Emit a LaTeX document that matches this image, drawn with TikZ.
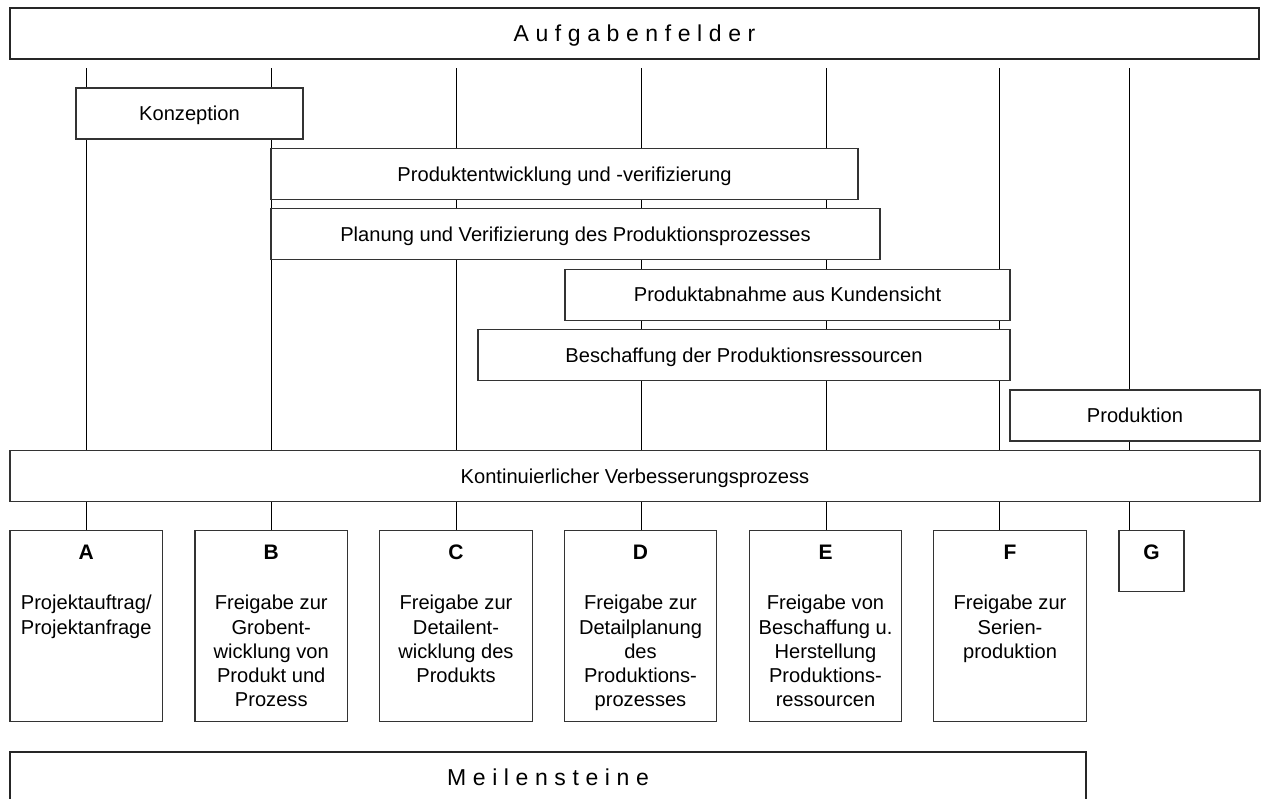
\documentclass[tikz,border=0pt]{standalone}
\usepackage{fontspec}
\setmainfont{Liberation Sans}
\newcommand{\bodyfont}{\fontsize{20.1}{24.3}\selectfont}
\newcommand{\trk}{\kern6.6pt}
\begin{document}
\begin{tikzpicture}[x=1pt,y=-1pt,
  banner/.style={draw=black!85, line width=2.2pt, fill=white, minimum height=51pt,
    inner sep=0pt, font=\fontsize{23}{27}\selectfont, text height=16.5pt, text depth=0pt},
  phase/.style={draw=black!80, line width=1.2pt, fill=white, minimum height=51pt,
    inner sep=0pt, font=\bodyfont, text height=14.4pt, text depth=0pt},
  gate/.style={draw=black!80, line width=1.2pt, fill=white, inner sep=0pt,
    minimum width=152.5pt, minimum height=191pt},
  gateid/.style={font=\fontsize{21}{25}\selectfont\bfseries, inner sep=0pt, anchor=base},
  gatetxt/.style={font=\bodyfont, align=center, inner sep=0pt, anchor=north},
  track/.style={draw=black, line width=1pt}]

\useasboundingbox (0,0) rectangle (1263,798);
\clip (0,0) rectangle (1263,798);

% upper ends of the vertical tracks
\coordinate (t1) at (86,68);
\coordinate (t2) at (271,68);
\coordinate (t3) at (456,68);
\coordinate (t4) at (641,68);
\coordinate (t5) at (826,68);
\coordinate (t6) at (999.5,68);
\coordinate (t7) at (1129.5,68);

% milestone boxes (placed first so the tracks can end on them)
\node[gate] (mA) at (86.25,626.2) {};
\node[gate] (mB) at (271.25,626.2) {};
\node[gate] (mC) at (456,626.2) {};
\node[gate] (mD) at (640.5,626.2) {};
\node[gate] (mE) at (825.5,626.2) {};
\node[gate] (mF) at (1010,626.2) {};
\node[gate, minimum width=65pt, minimum height=61pt] (mG) at (1151.5,561.2) {};

% tracks
\draw[track] (t1) -- (t1 |- mA.north);
\draw[track] (t2) -- (t2 |- mB.north);
\draw[track] (t3) -- (t3 |- mC.north);
\draw[track] (t4) -- (t4 |- mD.north);
\draw[track] (t5) -- (t5 |- mE.north);
\draw[track] (t6) -- (t6 |- mF.north);
\draw[track] (t7) -- (t7 |- mG.north);

% task field header
\node[banner, minimum width=1249pt] (tasks) at (634.5,33.5)
  {A\trk u\trk f\trk g\trk a\trk b\trk e\trk n\trk f\trk e\trk l\trk d\trk e\trk r};

% phases
\node[phase, minimum width=227pt] (konz) at (189.5,113.5) {Konzeption};
\node[phase, minimum width=587pt] (pev) at (564.5,173.9) {Produktentwicklung und -verifizierung};
\node[phase, minimum width=609pt] (pvp) at (575.5,234.3) {Planung und Verifizierung des Produktionsprozesses};
\node[phase, minimum width=445pt] (pak) at (787.5,294.7) {Produktabnahme aus Kundensicht};
\node[phase, minimum width=532pt] (bpr) at (744,355.1) {Beschaffung der Produktionsressourcen};
\node[phase, minimum width=250pt] (prod) at (1135,415.5) {Produktion};
\node[phase, minimum width=1250pt] (kvp) at (635,475.9) {Kontinuierlicher Verbesserungsprozess};

% milestone labels
\node[gateid] (lA) at (mA.center |- 0,559) {A};
\node[gateid] (lB) at (mB.center |- 0,559) {B};
\node[gateid] (lC) at (mC.center |- 0,559) {C};
\node[gateid] (lD) at (mD.center |- 0,559) {D};
\node[gateid] (lE) at (mE.center |- 0,559) {E};
\node[gateid] (lF) at (mF.center |- 0,559) {F};
\node[gateid] (lG) at (mG.center |- 0,559) {G};

\node[gatetxt] (xA) at (mA.center |- 0,595) {Projektauftrag/\\Projektanfrage};
\node[gatetxt] (xB) at (mB.center |- 0,595) {Freigabe zur\\Grobent-\\wicklung von\\Produkt und\\Prozess};
\node[gatetxt] (xC) at (mC.center |- 0,595) {Freigabe zur\\Detailent-\\wicklung des\\Produkts};
\node[gatetxt] (xD) at (mD.center |- 0,595) {Freigabe zur\\Detailplanung\\des\\Produktions-\\prozesses};
\node[gatetxt] (xE) at (mE.center |- 0,595) {Freigabe von\\Beschaffung u.\\Herstellung\\Produktions-\\ressourcen};
\node[gatetxt] (xF) at (mF.center |- 0,595) {Freigabe zur\\Serien-\\produktion};

% milestone footer (runs past the lower edge)
\node[banner, minimum width=1076pt] (miles) at (548,777.5)
  {M\trk e\trk i\trk l\trk e\trk n\trk s\trk t\trk e\trk i\trk n\trk e};
\end{tikzpicture}
\end{document}
